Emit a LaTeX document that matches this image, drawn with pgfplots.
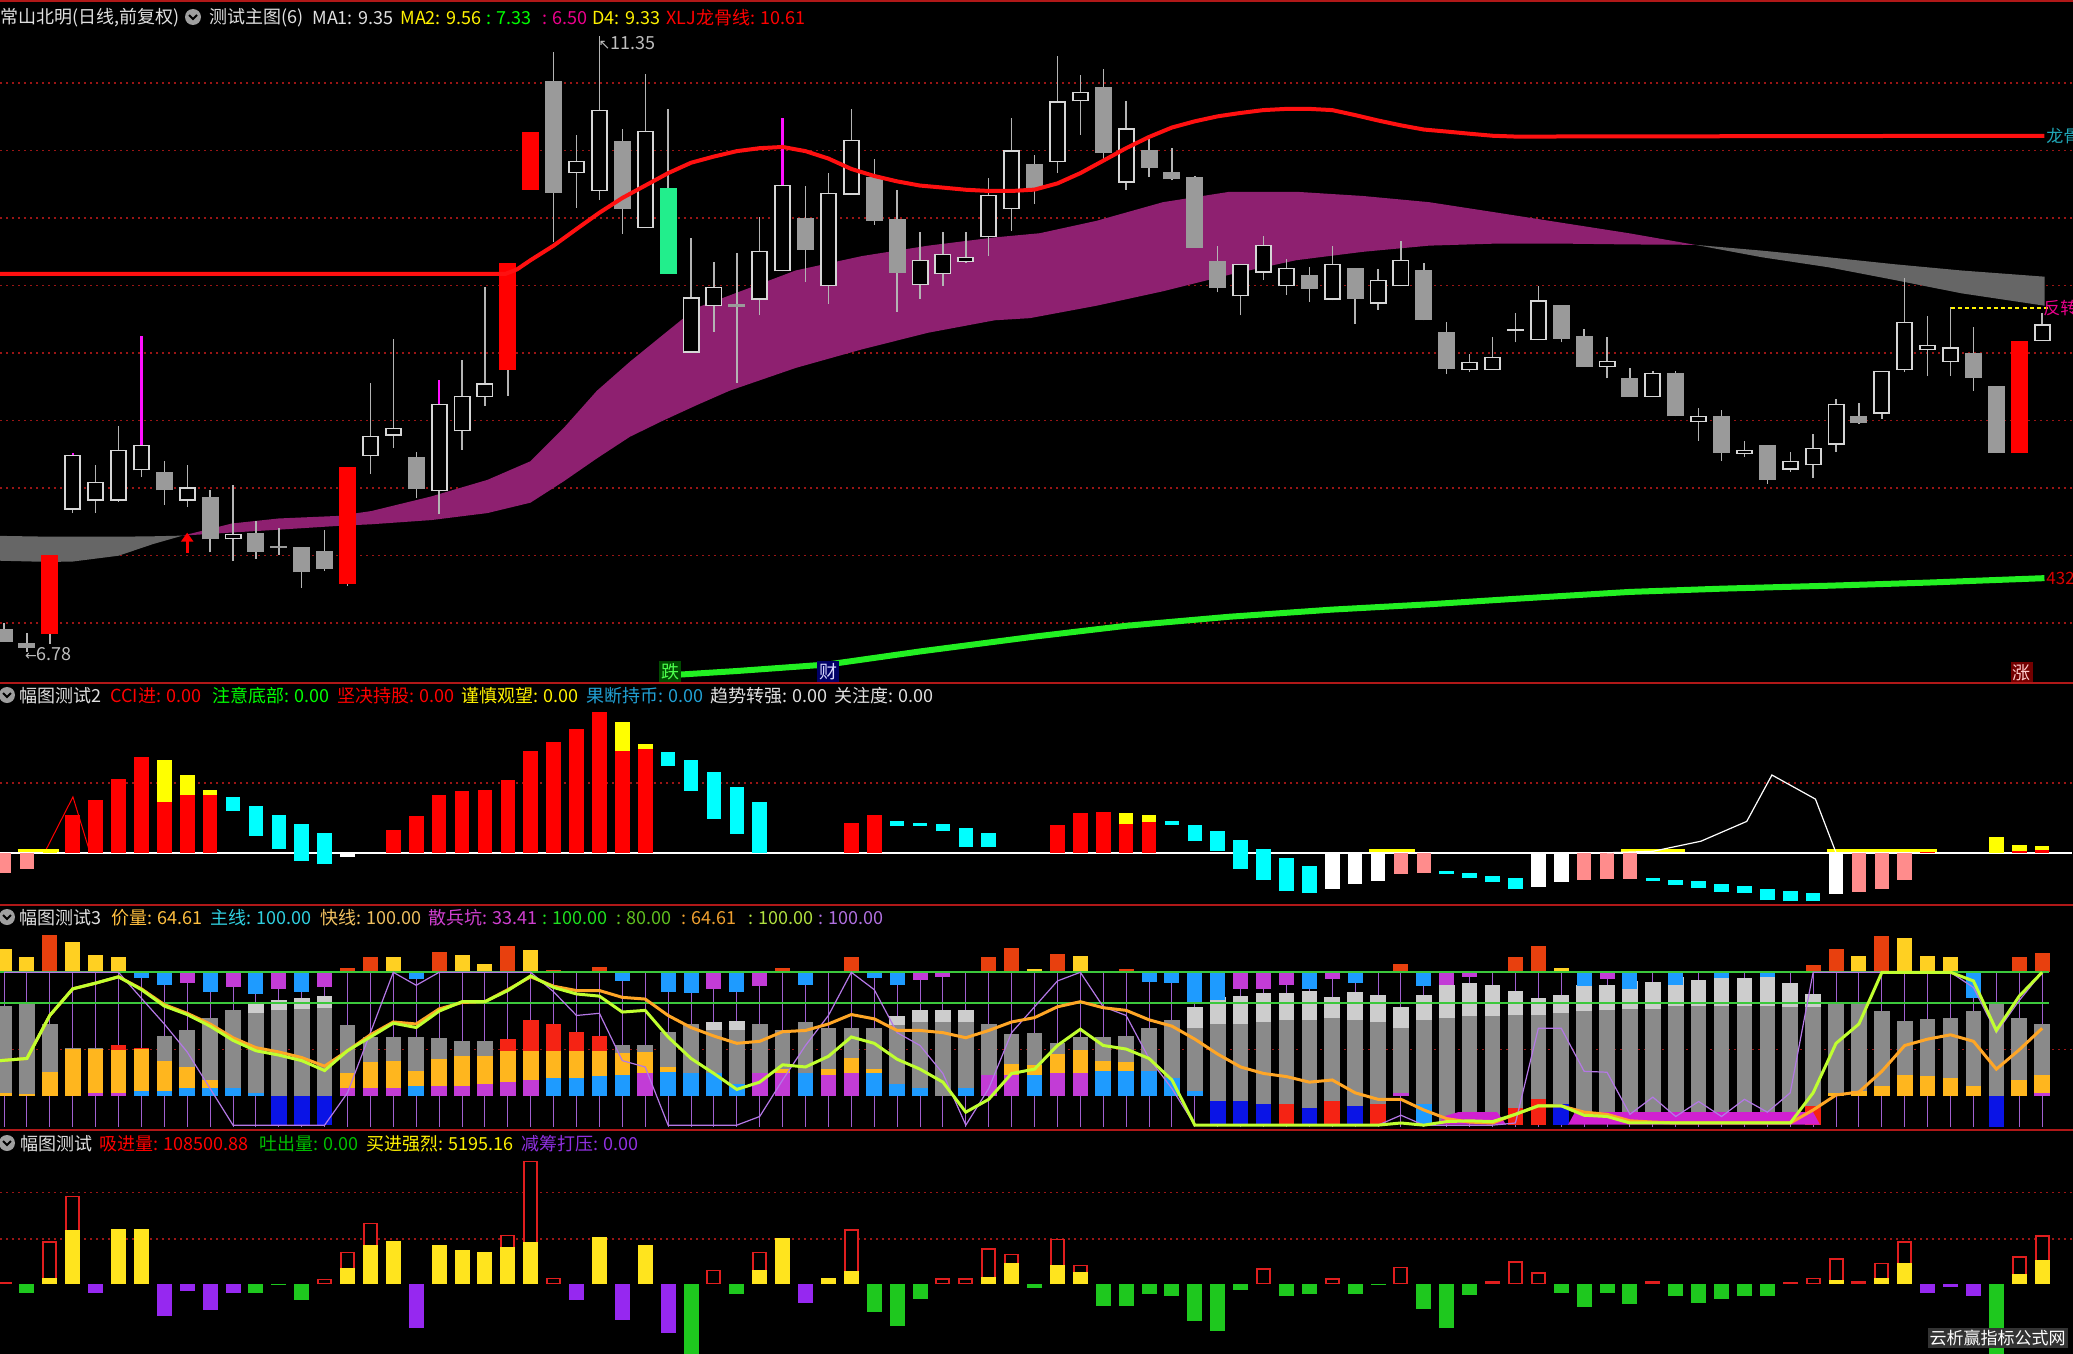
\documentclass[border=0pt]{standalone}
\usepackage{pgfplots}
\pgfplotsset{compat=1.18}
\usetikzlibrary{arrows.meta}
\usepackage{fontspec}
\setmainfont{Noto Sans CJK SC}
\newfontfamily\dejavu{DejaVu Sans}
\definecolor{candleH}{HTML}{D6D6D6}
\definecolor{candleG}{HTML}{9A9A9A}
\definecolor{wick}{HTML}{B4B4B4}
\definecolor{cred}{HTML}{FF0000}
\definecolor{cgreen}{HTML}{22EE8C}
\definecolor{cmag}{HTML}{FF10FF}
\definecolor{band}{HTML}{8E2070}
\definecolor{bandgray}{HTML}{666666}
\definecolor{lred}{HTML}{FF1010}
\definecolor{lgreen}{HTML}{22F022}
\definecolor{gridred}{HTML}{9A1515}
\definecolor{sepred}{HTML}{B01818}
\definecolor{ttxt}{HTML}{E0E0E0}
\definecolor{p2red}{HTML}{FF0000}
\definecolor{p2yel}{HTML}{FFFF00}
\definecolor{p2cyan}{HTML}{00FFFF}
\definecolor{p2pink}{HTML}{FF8C8C}
\definecolor{p3top}{HTML}{E8400E}
\definecolor{p3yel}{HTML}{FFD022}
\definecolor{p3blue}{HTML}{1E9BFF}
\definecolor{p3mag}{HTML}{C23CD6}
\definecolor{p3org}{HTML}{FFB61E}
\definecolor{p3gray}{HTML}{8A8A8A}
\definecolor{p3lgray}{HTML}{CDCDCD}
\definecolor{p3dblue}{HTML}{0A14E6}
\definecolor{p3red}{HTML}{F52314}
\definecolor{p3green}{HTML}{3CC83C}
\definecolor{p3oline}{HTML}{FFA626}
\definecolor{p3yline}{HTML}{C0FF30}
\definecolor{p3purp}{HTML}{B478E6}
\definecolor{p3vert}{HTML}{A060D0}
\definecolor{p3fill}{HTML}{D020D0}
\definecolor{p4yel}{HTML}{FFE41E}
\definecolor{p4red}{HTML}{E01E1E}
\definecolor{p4green}{HTML}{1EC81E}
\definecolor{p4purp}{HTML}{9628F0}
\pgfplotsset{
  panel/.style={scale only axis, width=1036.5pt, xmin=-0.17467, xmax=90.349,
    anchor=north west, axis line style={draw=none}, tick style={draw=none},
    xtick=\empty, ytick=\empty, unbounded coords=jump,
    every axis plot/.append style={line cap=butt, mark=none}},
  gridl/.style={draw=gridred, line width=0.7pt, dash pattern=on 0.7pt off 2.3pt},
}
\newcommand\hdr{\fontsize{9pt}{10pt}\selectfont}
\newcommand\lbl{\fontsize{8.5pt}{9pt}\selectfont}
\begin{document}
\begin{tikzpicture}[x=0.5pt,y=-0.5pt]
\fill[black] (0,0) rectangle (2073,1354);
\path[use as bounding box] (0,0) rectangle (2073,1354);
%================ MAIN ================
\begin{axis}[panel, at={(0pt,0pt)}, height=341.5pt, ymin=6.5563, ymax=11.6156]
\addplot[gridl] coordinates {(-0.17,7)(90.35,7)(90.35,nan)(-0.17,7.5)(90.35,7.5)(90.35,nan)(-0.17,8)(90.35,8)(90.35,nan)(-0.17,8.5)(90.35,8.5)(90.35,nan)(-0.17,9)(90.35,9)(90.35,nan)(-0.17,9.5)(90.35,9.5)(90.35,nan)(-0.17,10)(90.35,10)(90.35,nan)(-0.17,10.5)(90.35,10.5)(90.35,nan)(-0.17,11)(90.35,11)};
% bands
\addplot[fill=bandgray, draw=none] coordinates {(-0.17,7.646)(2,7.64)(3,7.64)(5,7.64)(6.5,7.643)(7.8,7.648)(6.5,7.585)(5,7.499)(3,7.456)(2,7.453)(-0.17,7.462)} --cycle;
\addplot[fill=band, draw=none] coordinates {(7.8,7.648)(9.96,7.738)(11.99,7.775)(14.59,7.794)(16.04,7.83)(18.65,7.938)(21.11,8.061)(22.99,8.199)(24.44,8.445)(25.89,8.721)(27.33,8.936)(28.78,9.136)(30.23,9.335)(31.68,9.427)(34.57,9.612)(37.47,9.719)(40.36,9.796)(43.26,9.857)(45.23,9.888)(47.71,9.98)(50.61,10.118)(53.52,10.195)(56.42,10.195)(59.33,10.164)(62.23,10.118)(65.14,10.042)(68.04,9.965)(70.95,9.888)(73.85,9.802)(70.95,9.805)(68.04,9.811)(65.14,9.811)(62.23,9.796)(59.33,9.75)(56.42,9.688)(53.52,9.581)(50.61,9.458)(47.71,9.351)(44.8,9.259)(43.26,9.243)(40.36,9.151)(37.47,9.028)(34.57,8.89)(31.68,8.721)(30.23,8.613)(28.78,8.5)(27.33,8.38)(25.89,8.22)(24.44,8.05)(22.99,7.892)(21.11,7.815)(18.65,7.763)(16.04,7.732)(14.59,7.72)(11.99,7.692)(9.96,7.671)} --cycle;
\addplot[fill=bandgray, draw=none] coordinates {(73.85,9.802)(76.76,9.759)(79.66,9.71)(82.57,9.658)(85.47,9.612)(89.11,9.566)(89.11,9.351)(85.47,9.443)(82.57,9.541)(79.66,9.636)(76.76,9.71)} --cycle;
% wicks
\addplot[wick, line width=0.7pt] coordinates {
(0,6.86)(0,7.00)(0,nan)(1,6.786)(1,6.924)(1,nan)(2,6.848)(2,7.508)(2,nan)(3,7.815)(3,8.26)(3,nan)
(4,7.815)(4,8.174)(4,nan)(5,7.9)(5,8.46)(5,nan)(6,8.082)(6,9.126)(6,nan)(7,7.876)(7,8.199)(7,nan)
(8,7.861)(8,8.168)(8,nan)(9,7.523)(9,7.984)(9,nan)(10,7.462)(10,8.021)(10,nan)(11,7.477)(11,7.754)(11,nan)
(12,7.508)(12,7.708)(12,nan)(13,7.262)(13,7.56)(13,nan)(14,7.385)(14,7.692)(14,nan)(15,7.278)(15,8.159)(15,nan)
(16,8.107)(16,8.782)(16,nan)(17,8.297)(17,9.105)(17,nan)(18,7.923)(18,8.267)(18,nan)(19,7.806)(19,8.804)(19,nan)
(20,8.285)(20,8.951)(20,nan)(21,8.607)(21,9.489)(21,nan)(22,8.684)(22,9.667)(22,nan)(24,9.821)(24,11.233)(24,nan)
(25,10.078)(25,10.619)(25,nan)(26,10.134)(26,11.35)(26,nan)(27,9.882)(27,10.662)(27,nan)(28,9.928)(28,11.071)(28,nan)
(29,9.587)(29,10.809)(29,nan)(30,9.004)(30,9.851)(30,nan)(31,9.157)(31,9.673)(31,nan)(32,8.782)(32,9.744)(32,nan)
(33,9.28)(33,10.005)(33,nan)(34,9.605)(34,10.742)(34,nan)(35,9.526)(35,10.241)(35,nan)(36,9.366)(36,10.333)(36,nan)
(37,10.174)(37,10.809)(37,nan)(38,9.95)(38,10.435)(38,nan)(39,9.305)(39,10.211)(39,nan)(40,9.403)(40,9.894)(40,nan)
(41,9.5)(41,9.894)(41,nan)(42,9.67)(42,9.9)(42,nan)(43,9.719)(43,10.294)(43,nan)(44,9.903)(44,10.742)(44,nan)
(45,10.103)(45,10.47)(45,nan)(46,10.333)(46,11.2)(46,nan)(47,10.619)(47,11.061)(47,nan)(48,10.44)(48,11.101)(48,nan)
(49,10.211)(49,10.871)(49,nan)(50,10.303)(50,10.588)(50,nan)(51,10.28)(51,10.52)(51,nan)(52,9.781)(52,10.31)(52,nan)
(53,9.45)(53,9.79)(53,nan)(54,9.28)(54,9.658)(54,nan)(55,9.54)(55,9.87)(55,nan)(56,9.43)(56,9.7)(56,nan)
(57,9.38)(57,9.64)(57,nan)(58,9.39)(58,9.79)(58,nan)(59,9.219)(59,9.627)(59,nan)(60,9.32)(60,9.62)(60,nan)
(61,9.495)(61,9.83)(61,nan)(62,9.243)(62,9.67)(62,nan)(63,8.844)(63,9.228)(63,nan)(64,8.86)(64,8.99)(64,nan)
(65,8.875)(65,9.12)(65,nan)(66,9.08)(66,9.3)(66,nan)(67,9.096)(67,9.5)(67,nan)(68,9.08)(68,9.36)(68,nan)
(69,8.899)(69,9.18)(69,nan)(70,8.813)(70,9.12)(70,nan)(71,8.675)(71,8.89)(71,nan)(72,8.675)(72,8.87)(72,nan)
(73,8.531)(73,8.87)(73,nan)(74,8.352)(74,8.592)(74,nan)(75,8.2)(75,8.58)(75,nan)(76,8.23)(76,8.35)(76,nan)
(77,8.03)(77,8.32)(77,nan)(78,8.12)(78,8.27)(78,nan)(79,8.075)(79,8.4)(79,nan)(80,8.27)(80,8.66)(80,nan)
(81,8.475)(81,8.63)(81,nan)(82,8.515)(82,8.868)(82,nan)(83,8.86)(83,9.556)(83,nan)(84,8.829)(84,9.274)(84,nan)
(85,8.829)(85,9.341)(85,nan)(86,8.72)(86,9.19)(86,nan)(87,8.26)(87,8.76)(87,nan)(89,9.09)(89,9.3)};
\addplot[cmag, line width=1.2pt] coordinates {(3,8.245)(3,8.262)(3,nan)(6,8.322)(6,9.126)(6,nan)(19,8.623)(19,8.804)(19,nan)(34,10.248)(34,10.742)};
% gray bodies
\addplot[candleG, line width=8.5pt] coordinates {
(0,6.863)(0,6.955)(0,nan)(1,6.817)(1,6.854)(1,nan)(7,7.984)(7,8.122)(7,nan)(9,7.621)(9,7.932)(9,nan)
(11,7.529)(11,7.667)(11,nan)(12,7.555)(12,7.572)(12,nan)(13,7.376)(13,7.56)(13,nan)(14,7.4)(14,7.535)(14,nan)
(18,7.99)(18,8.23)(18,nan)(24,10.186)(24,11.018)(24,nan)(27,10.066)(27,10.57)(27,nan)(32,9.341)(32,9.366)(32,nan)
(35,9.765)(35,10.002)(35,nan)(38,9.98)(38,10.303)(38,nan)(39,9.596)(39,9.99)(39,nan)(45,10.226)(45,10.404)(45,nan)
(48,10.481)(48,10.969)(48,nan)(50,10.373)(50,10.502)(50,nan)(51,10.287)(51,10.343)(51,nan)(52,9.781)(52,10.303)(52,nan)
(53,9.483)(53,9.679)(53,nan)(57,9.473)(57,9.581)(57,nan)(59,9.403)(59,9.627)(59,nan)(62,9.243)(62,9.612)(62,nan)
(63,8.881)(63,9.157)(63,nan)(68,9.105)(68,9.36)(68,nan)(69,8.899)(69,9.126)(69,nan)(71,8.675)(71,8.813)(71,nan)
(73,8.531)(73,8.856)(73,nan)(75,8.26)(75,8.537)(75,nan)(77,8.061)(77,8.316)(77,nan)(81,8.482)(81,8.537)(81,nan)
(86,8.819)(86,9.004)(86,nan)(87,8.26)(87,8.758)};
% hollow bodies (outline)
\addplot[candleH, line width=8.5pt] coordinates {
(3,7.84)(3,8.245)(3,nan)(4,7.907)(4,8.045)(4,nan)(5,7.907)(5,8.285)(5,nan)(6,8.131)(6,8.322)(6,nan)
(8,7.907)(8,8.005)(8,nan)(10,7.621)(10,7.661)(10,nan)(16,8.236)(16,8.389)(16,nan)(17,8.389)(17,8.445)(17,nan)
(19,7.978)(19,8.623)(19,nan)(20,8.42)(20,8.681)(20,nan)(21,8.675)(21,8.776)(21,nan)(25,10.333)(25,10.422)(25,nan)
(26,10.201)(26,10.8)(26,nan)(28,9.928)(28,10.647)(28,nan)(30,9.004)(30,9.412)(30,nan)(31,9.351)(31,9.489)(31,nan)
(33,9.397)(33,9.756)(33,nan)(34,9.605)(34,10.248)(34,nan)(36,9.498)(36,10.189)(36,nan)(37,10.174)(37,10.579)(37,nan)
(40,9.504)(40,9.688)(40,nan)(41,9.587)(41,9.734)(41,nan)(42,9.675)(42,9.715)(42,nan)(43,9.857)(43,10.171)(43,nan)
(44,10.066)(44,10.502)(44,nan)(46,10.416)(46,10.865)(46,nan)(47,10.865)(47,10.932)(47,nan)(49,10.263)(49,10.665)(49,nan)
(54,9.421)(54,9.658)(54,nan)(55,9.596)(55,9.802)(55,nan)(56,9.495)(56,9.633)(56,nan)(58,9.397)(58,9.658)(58,nan)
(60,9.366)(60,9.544)(60,nan)(61,9.495)(61,9.688)(61,nan)(64,8.875)(64,8.936)(64,nan)(65,8.875)(65,8.973)(65,nan)
(66,9.163)(66,9.181)(66,nan)(67,9.096)(67,9.391)(67,nan)(70,8.899)(70,8.945)(70,nan)(72,8.675)(72,8.856)(72,nan)
(74,8.491)(74,8.537)(74,nan)(76,8.254)(76,8.285)(76,nan)(78,8.137)(78,8.199)(78,nan)(79,8.168)(79,8.297)(79,nan)
(80,8.322)(80,8.623)(80,nan)(82,8.552)(82,8.868)(82,nan)(83,8.875)(83,9.234)(83,nan)(84,9.022)(84,9.059)(84,nan)
(85,8.936)(85,9.043)(85,nan)(89,9.09)(89,9.212)};
% hollow bodies (inside)
\addplot[black, line width=6.6pt] coordinates {
(3,7.849)(3,8.236)(3,nan)(4,7.916)(4,8.036)(4,nan)(5,7.916)(5,8.276)(5,nan)(6,8.14)(6,8.313)(6,nan)
(8,7.916)(8,7.996)(8,nan)(10,7.63)(10,7.652)(10,nan)(16,8.245)(16,8.38)(16,nan)(17,8.398)(17,8.436)(17,nan)
(19,7.987)(19,8.614)(19,nan)(20,8.429)(20,8.672)(20,nan)(21,8.684)(21,8.767)(21,nan)(25,10.342)(25,10.413)(25,nan)
(26,10.21)(26,10.791)(26,nan)(28,9.937)(28,10.638)(28,nan)(30,9.013)(30,9.403)(30,nan)(31,9.36)(31,9.48)(31,nan)
(33,9.406)(33,9.747)(33,nan)(34,9.614)(34,10.239)(34,nan)(36,9.507)(36,10.18)(36,nan)(37,10.183)(37,10.57)(37,nan)
(40,9.513)(40,9.679)(40,nan)(41,9.596)(41,9.725)(41,nan)(42,9.684)(42,9.706)(42,nan)(43,9.866)(43,10.162)(43,nan)
(44,10.075)(44,10.493)(44,nan)(46,10.425)(46,10.856)(46,nan)(47,10.874)(47,10.923)(47,nan)(49,10.272)(49,10.656)(49,nan)
(54,9.43)(54,9.649)(54,nan)(55,9.605)(55,9.793)(55,nan)(56,9.504)(56,9.624)(56,nan)(58,9.406)(58,9.649)(58,nan)
(60,9.375)(60,9.535)(60,nan)(61,9.504)(61,9.679)(61,nan)(64,8.884)(64,8.927)(64,nan)(65,8.884)(65,8.964)(65,nan)
(67,9.105)(67,9.382)(67,nan)(70,8.908)(70,8.936)(70,nan)(72,8.684)(72,8.847)(72,nan)(74,8.5)(74,8.528)(74,nan)
(76,8.263)(76,8.276)(76,nan)(78,8.146)(78,8.19)(78,nan)(79,8.177)(79,8.288)(79,nan)(80,8.331)(80,8.614)(80,nan)
(82,8.561)(82,8.859)(82,nan)(83,8.884)(83,9.225)(83,nan)(84,9.031)(84,9.05)(84,nan)(85,8.945)(85,9.034)(85,nan)
(89,9.099)(89,9.203)};
% red & green bodies
\addplot[cred, line width=8.5pt] coordinates {(2,6.918)(2,7.508)(2,nan)(15,7.293)(15,8.159)(15,nan)(22,8.875)(22,9.667)(22,nan)(23,10.211)(23,10.641)(23,nan)(88,8.26)(88,9.09)};
\addplot[cgreen, line width=8.5pt] coordinates {(29,9.587)(29,10.226)};
% red line
\addplot[lred, line width=2pt] coordinates {(-0.17,9.587)(21.9,9.587)(22.4,9.62)(23,9.689)(24,9.796)(25,9.919)(26,10.04)(27,10.149)(28,10.241)(29,10.333)(30,10.41)(31,10.456)(32,10.496)(33,10.518)(34,10.527)(35,10.496)(36,10.441)(37,10.364)(38,10.312)(39,10.272)(40,10.241)(41,10.226)(42,10.21)(43,10.201)(44,10.201)(45,10.211)(46,10.257)(47,10.333)(48,10.425)(49,10.518)(50,10.601)(51,10.671)(52,10.717)(53,10.754)(54,10.779)(55,10.8)(56,10.809)(57,10.809)(58,10.8)(59,10.763)(60,10.723)(61,10.687)(62,10.656)(63,10.641)(64,10.625)(65,10.61)(66,10.604)(89.1,10.61)};
% green line
\addplot[lgreen, line width=3pt] coordinates {(29.36,6.617)(32,6.645)(36,6.694)(40,6.79)(45,6.9)(49,6.98)(53.5,7.047)(58,7.1)(62.2,7.139)(66,7.18)(71,7.231)(75,7.255)(79.7,7.277)(84,7.3)(89.1,7.333)};
% dotted yellow
\addplot[yellow, line width=0.9pt, dash pattern=on 2pt off 1.6pt] coordinates {(85,9.335)(89.4,9.335)};
% red arrow
\draw[cred, line width=1.4pt, -{Triangle[width=6pt,length=4.5pt]}] (axis cs:8,7.52) -- (axis cs:8,7.67);
% labels
\node[anchor=west, inner sep=0, text=ttxt!85!black, font=\hdr] at (axis cs:25.95,11.30) {{\dejavu\fontsize{7pt}{7pt}\selectfont ↖}11.35};
\node[anchor=west, inner sep=0, text=ttxt!85!black, font=\hdr] at (axis cs:0.9,6.77) {{\dejavu\fontsize{7pt}{7pt}\selectfont ←}6.78};
\node[fill=green!30!black, text=green!70!white, inner sep=1pt, font=\hdr] at (axis cs:29.1,6.64) {跌};
\node[fill=blue!40!black, text=blue!15!white, inner sep=1pt, font=\hdr] at (axis cs:36.0,6.64) {财};
\node[fill=red!45!black, text=red!20!white, inner sep=1pt, font=\hdr] at (axis cs:88.1,6.635) {涨};
\end{axis}
%================ PANEL 2 ================
\begin{axis}[panel, at={(0pt,-341.5pt)}, height=111pt, ymin=-52.2, ymax=169.8]
\addplot[gridl] coordinates {(-0.17,69.8)(90.35,69.8)};
\addplot[white, line width=1pt] coordinates {(-0.17,0)(90.3,0)};
\addplot[p2red, line width=0.5pt] coordinates {(1.79,1)(3.01,55.9)(3.73,2)};
\addplot[p2red, line width=7.3pt] coordinates {(3,0)(3,38.3)(3,nan)(4,0)(4,53.3)(4,nan)(5,0)(5,73.9)(5,nan)(6,0)(6,95.4)(6,nan)(7,0)(7,51.2)(7,nan)(8,0)(8,57.6)(8,nan)(9,0)(9,57.6)(9,nan)(17,0)(17,23.2)(17,nan)(18,0)(18,36.5)(18,nan)(19,0)(19,57.6)(19,nan)(20,0)(20,61.9)(20,nan)(21,0)(21,63.2)(21,nan)(22,0)(22,72.7)(22,nan)(23,0)(23,101.9)(23,nan)(24,0)(24,110.5)(24,nan)(25,0)(25,123.4)(25,nan)(26,0)(26,140.6)(26,nan)(27,0)(27,101.9)(27,nan)(28,0)(28,104)(28,nan)(37,0)(37,30.1)(37,nan)(38,0)(38,38.3)(38,nan)(46,0)(46,27.5)(46,nan)(47,0)(47,39.6)(47,nan)(48,0)(48,40.8)(48,nan)(49,0)(49,28.8)(49,nan)(50,0)(50,31)(50,nan)(84,0)(84,4.3)(84,nan)(88,0)(88,2)(88,nan)(89,0)(89,2.5)};
\addplot[p2yel, line width=7.3pt] coordinates {(2,0)(2,3)(2,nan)(7,51.2)(7,93.3)(7,nan)(8,57.6)(8,78.2)(8,nan)(9,57.6)(9,63.2)(9,nan)(27,101.9)(27,131.1)(27,nan)(28,104)(28,109.2)(28,nan)(49,28.8)(49,39.6)(49,nan)(50,31)(50,38.3)(50,nan)(87,0)(87,15.9)(87,nan)(88,2)(88,8.2)(88,nan)(89,2.5)(89,6.4)};
\addplot[p2yel, line width=1.5pt] coordinates {(0.6,2)(2.4,2)(2.4,nan)(59.6,2)(61.6,2)(61.6,nan)(70.6,2)(73.4,2)(73.4,nan)(79.6,2)(84.4,2)};
\addplot[p2cyan, line width=7.3pt] coordinates {(10,41.7)(10,55.9)(10,nan)(11,17.2)(11,46.9)(11,nan)(12,4.3)(12,38.3)(12,nan)(13,-7.7)(13,28.8)(13,nan)(14,-11.2)(14,20.2)(14,nan)(29,86.8)(29,101)(29,nan)(30,62.3)(30,92.4)(30,nan)(31,34)(31,80.4)(31,nan)(32,18.9)(32,66.2)(32,nan)(33,0)(33,51.2)(33,nan)(39,26.7)(39,32.2)(39,nan)(40,26.7)(40,30.1)(40,nan)(41,21.5)(41,28.8)(41,nan)(42,6)(42,24.5)(42,nan)(43,6)(43,20.2)(43,nan)(51,28)(51,32.2)(51,nan)(52,11.6)(52,27.5)(52,nan)(53,1.7)(53,21.5)(53,nan)(54,-16.3)(54,12.5)(54,nan)(55,-27.1)(55,4.3)(55,nan)(56,-37.8)(56,-5.6)(56,nan)(57,-40)(57,-12.9)(57,nan)(63,-21.5)(63,-18.5)(63,nan)(64,-24.9)(64,-20.6)(64,nan)(65,-29.2)(65,-22.8)(65,nan)(66,-35.7)(66,-24.9)(66,nan)(72,-28)(72,-24.9)(72,nan)(73,-32.2)(73,-27.1)(73,nan)(74,-35.3)(74,-28.4)(74,nan)(75,-39.1)(75,-31.4)(75,nan)(76,-40)(76,-32.7)(76,nan)(77,-47.3)(77,-35.7)(77,nan)(78,-48.6)(78,-37.8)(78,nan)(79,-48.6)(79,-40)};
\addplot[white, line width=7.3pt] coordinates {(15,0)(15,-4.3)(15,nan)(58,0)(58,-35.7)(58,nan)(59,0)(59,-31.4)(59,nan)(60,0)(60,-28.4)(60,nan)(67,0)(67,-34.4)(67,nan)(68,0)(68,-29.2)(68,nan)(80,0)(80,-40.8)};
\addplot[p2pink, line width=7.3pt] coordinates {(0,0)(0,-19.8)(0,nan)(1,0)(1,-16.3)(1,nan)(61,0)(61,-21.5)(61,nan)(62,0)(62,-19.8)(62,nan)(69,0)(69,-27.1)(69,nan)(70,0)(70,-25.8)(70,nan)(71,0)(71,-25.8)(71,nan)(81,0)(81,-39.1)(81,nan)(82,0)(82,-35.7)(82,nan)(83,0)(83,-27.1)};
\addplot[white, line width=0.6pt] coordinates {(70,0)(72,1.5)(74.1,11.6)(76.1,31.4)(77.2,77.8)(79.1,53.7)(80,0)};
\end{axis}
%================ PANEL 3 ================
\begin{axis}[panel, at={(0pt,-452.5pt)}, height=112.5pt, ymin=-1.94, ymax=143.5]
\addplot[gridl] coordinates {(-0.17,50)(90.35,50)};
\addplot[p3vert, line width=0.5pt] coordinates {(0,0)(0,100)(0,nan)(1,0)(1,100)(1,nan)(2,0)(2,100)(2,nan)(3,0)(3,100)(3,nan)(4,0)(4,100)(4,nan)(5,0)(5,100)(5,nan)(6,0)(6,100)(6,nan)(7,0)(7,100)(7,nan)(8,0)(8,100)(8,nan)(9,0)(9,100)(9,nan)(10,0)(10,100)(10,nan)(11,0)(11,100)(11,nan)(12,0)(12,100)(12,nan)(13,0)(13,100)(13,nan)(14,0)(14,100)(14,nan)(15,0)(15,100)(15,nan)(16,0)(16,100)(16,nan)(17,0)(17,100)(17,nan)(18,0)(18,100)(18,nan)(19,0)(19,100)(19,nan)(20,0)(20,100)(20,nan)(21,0)(21,100)(21,nan)(22,0)(22,100)(22,nan)(23,0)(23,100)(23,nan)(24,0)(24,100)(24,nan)(25,0)(25,100)(25,nan)(26,0)(26,100)(26,nan)(27,0)(27,100)(27,nan)(28,0)(28,100)(28,nan)(29,0)(29,100)(29,nan)(30,0)(30,100)(30,nan)(31,0)(31,100)(31,nan)(32,0)(32,100)(32,nan)(33,0)(33,100)(33,nan)(34,0)(34,100)(34,nan)(35,0)(35,100)(35,nan)(36,0)(36,100)(36,nan)(37,0)(37,100)(37,nan)(38,0)(38,100)(38,nan)(39,0)(39,100)(39,nan)(40,0)(40,100)(40,nan)(41,0)(41,100)(41,nan)(42,0)(42,100)(42,nan)(43,0)(43,100)(43,nan)(44,0)(44,100)(44,nan)(45,0)(45,100)(45,nan)(46,0)(46,100)(46,nan)(47,0)(47,100)(47,nan)(48,0)(48,100)(48,nan)(49,0)(49,100)(49,nan)(50,0)(50,100)(50,nan)(51,0)(51,100)(51,nan)(52,0)(52,100)(52,nan)(53,0)(53,100)(53,nan)(54,0)(54,100)(54,nan)(55,0)(55,100)(55,nan)(56,0)(56,100)(56,nan)(57,0)(57,100)(57,nan)(58,0)(58,100)(58,nan)(59,0)(59,100)(59,nan)(60,0)(60,100)(60,nan)(61,0)(61,100)(61,nan)(62,0)(62,100)(62,nan)(63,0)(63,100)(63,nan)(64,0)(64,100)(64,nan)(65,0)(65,100)(65,nan)(66,0)(66,100)(66,nan)(67,0)(67,100)(67,nan)(68,0)(68,100)(68,nan)(69,0)(69,100)(69,nan)(70,0)(70,100)(70,nan)(71,0)(71,100)(71,nan)(72,0)(72,100)(72,nan)(73,0)(73,100)(73,nan)(74,0)(74,100)(74,nan)(75,0)(75,100)(75,nan)(76,0)(76,100)(76,nan)(77,0)(77,100)(77,nan)(78,0)(78,100)(78,nan)(79,0)(79,100)(79,nan)(80,0)(80,100)(80,nan)(81,0)(81,100)(81,nan)(82,0)(82,100)(82,nan)(83,0)(83,100)(83,nan)(84,0)(84,100)(84,nan)(85,0)(85,100)(85,nan)(86,0)(86,100)(86,nan)(87,0)(87,100)(87,nan)(88,0)(88,100)(88,nan)(89,0)(89,100)};
% gray stack
\addplot[p3gray, line width=7.8pt] coordinates {(0,20)(0,78.2)(0,nan)(1,20)(1,79.9)(1,nan)(2,20)(2,66.6)(2,nan)(3,20)(3,51)(3,nan)(4,20)(4,51)(4,nan)(7,20)(7,58.8)(7,nan)(8,20)(8,62.4)(8,nan)(9,20)(9,70.7)(9,nan)(10,20)(10,75.4)(10,nan)(11,20)(11,73.5)(11,nan)(12,20)(12,75.4)(12,nan)(13,20)(13,76)(13,nan)(14,20)(14,77)(14,nan)(15,20)(15,66)(15,nan)(16,20)(16,58.2)(16,nan)(17,20)(17,58.2)(17,nan)(18,20)(18,58.2)(18,nan)(19,20)(19,57.7)(19,nan)(20,20)(20,55.4)(20,nan)(21,20)(21,55.4)(21,nan)(27,20)(27,53.2)(27,nan)(28,20)(28,52.7)(28,nan)(29,20)(29,61.6)(29,nan)(30,20)(30,66.6)(30,nan)(31,20)(31,63)(31,nan)(32,20)(32,63)(32,nan)(33,20)(33,66.6)(33,nan)(34,20)(34,62.4)(34,nan)(35,20)(35,67.9)(35,nan)(36,20)(36,63.8)(36,nan)(37,20)(37,63.8)(37,nan)(38,20)(38,63.8)(38,nan)(39,20)(39,66)(39,nan)(40,20)(40,68)(40,nan)(41,20)(41,68)(41,nan)(42,20)(42,68)(42,nan)(43,20)(43,66.6)(43,nan)(44,20)(44,60.4)(44,nan)(45,20)(45,61)(45,nan)(46,20)(46,54.1)(46,nan)(47,20)(47,58.2)(47,nan)(48,20)(48,58.2)(48,nan)(49,20)(49,58.8)(49,nan)(50,20)(50,64.3)(50,nan)(51,20)(51,69.3)(51,nan)(52,20)(52,63.8)(52,nan)(53,16.5)(53,66.6)(53,nan)(54,16.5)(54,66.6)(54,nan)(55,15.1)(55,67.9)(55,nan)(56,15.1)(56,69.3)(56,nan)(57,12.4)(57,69.3)(57,nan)(58,17.1)(58,70.7)(58,nan)(59,13.7)(59,69.3)(59,nan)(60,15.1)(60,67.9)(60,nan)(61,22.1)(61,63.8)(61,nan)(62,15.1)(62,69.3)(62,nan)(63,2.1)(63,70.7)(63,nan)(64,2.1)(64,72)(64,nan)(65,2.1)(65,72)(65,nan)(66,12.4)(66,72.7)(66,nan)(67,17.9)(67,72.7)(67,nan)(68,15.1)(68,73.5)(68,nan)(69,2.1)(69,74.9)(69,nan)(70,2.1)(70,75.4)(70,nan)(71,2.1)(71,76.3)(71,nan)(72,2.1)(72,76.3)(72,nan)(73,2.1)(73,78.2)(73,nan)(74,2.1)(74,78.2)(74,nan)(75,2.1)(75,78.2)(75,nan)(76,2.1)(76,78.2)(76,nan)(77,2.1)(77,78.2)(77,nan)(78,2.1)(78,77.7)(78,nan)(79,13.7)(79,77.7)(79,nan)(80,20)(80,80.5)(80,nan)(81,20)(81,79.9)(81,nan)(82,20)(82,74.9)(82,nan)(83,20)(83,68.8)(83,nan)(84,20)(84,69.9)(84,nan)(85,20)(85,70.7)(85,nan)(86,20)(86,74.9)(86,nan)(87,20)(87,79.9)(87,nan)(88,20)(88,70.7)(88,nan)(89,20)(89,66.6)};
\addplot[p3lgray, line width=7.8pt] coordinates {(11,73.5)(11,81)(11,nan)(12,75.4)(12,81.8)(12,nan)(13,76)(13,83.2)(13,nan)(14,77)(14,84.6)(14,nan)(31,63)(31,67.9)(31,nan)(32,63)(32,68.8)(32,nan)(39,66)(39,71.6)(39,nan)(40,68)(40,75.4)(40,nan)(41,68)(41,75.4)(41,nan)(42,68)(42,75.4)(42,nan)(52,63.8)(52,77.7)(52,nan)(53,66.6)(53,83.8)(53,nan)(54,66.6)(54,84.6)(54,nan)(55,67.9)(55,86.6)(55,nan)(56,69.3)(56,86.6)(56,nan)(57,69.3)(57,88.2)(57,nan)(58,70.7)(58,83.8)(58,nan)(59,69.3)(59,87.4)(59,nan)(60,67.9)(60,85.4)(60,nan)(61,63.8)(61,77.7)(61,nan)(62,69.3)(62,85.4)(62,nan)(63,70.7)(63,91.6)(63,nan)(64,72)(64,93)(64,nan)(65,72)(65,92.1)(65,nan)(66,72.7)(66,88.2)(66,nan)(67,72.7)(67,83.2)(67,nan)(68,73.5)(68,85.4)(68,nan)(69,74.9)(69,91.6)(69,nan)(70,75.4)(70,92.1)(70,nan)(71,76.3)(71,94.4)(71,nan)(72,76.3)(72,93.8)(72,nan)(73,78.2)(73,97.1)(73,nan)(74,78.2)(74,94.9)(74,nan)(75,78.2)(75,97.1)(75,nan)(76,78.2)(76,96.6)(76,nan)(77,78.2)(77,97.1)(77,nan)(78,77.7)(78,93)(78,nan)(79,77.7)(79,86)};
\addplot[p3org, line width=7.8pt] coordinates {(0,20)(0,22)(0,nan)(1,20)(1,21.5)(1,nan)(2,20)(2,35.4)(2,nan)(3,20)(3,50.4)(3,nan)(4,22.1)(4,50.4)(4,nan)(5,22.1)(5,49.9)(5,nan)(6,23.5)(6,50.4)(6,nan)(7,23.5)(7,42.9)(7,nan)(8,24.9)(8,38.8)(8,nan)(9,25.4)(9,30.4)(9,nan)(15,24.9)(15,34.6)(15,nan)(16,25.4)(16,42.1)(16,nan)(17,25.4)(17,42.9)(17,nan)(18,26.2)(18,36)(18,nan)(19,26.2)(19,43.8)(19,nan)(20,26.2)(20,45.7)(20,nan)(21,27.6)(21,45.7)(21,nan)(22,29)(22,49.3)(22,nan)(23,30.4)(23,49.3)(23,nan)(24,31.8)(24,49.3)(24,nan)(25,31.8)(25,49.3)(25,nan)(26,33.2)(26,49.3)(26,nan)(27,33.8)(27,47.7)(27,nan)(28,34.6)(28,48.5)(28,nan)(29,35.4)(29,38.8)(29,nan)(34,34.6)(34,37.4)(34,nan)(36,33.8)(36,37.6)(36,nan)(37,34.6)(37,44.9)(37,nan)(38,34.6)(38,37.4)(38,nan)(44,33.8)(44,41)(44,nan)(45,33.8)(45,40.2)(45,nan)(46,34.6)(46,47.1)(46,nan)(47,34.6)(47,49.9)(47,nan)(48,36)(48,42.9)(48,nan)(49,36)(49,42.1)(49,nan)(80,20)(80,22.1)(80,nan)(81,20)(81,23.5)(81,nan)(82,20)(82,26.2)(82,nan)(83,20)(83,33.8)(83,nan)(84,20)(84,33)(84,nan)(85,20)(85,31.8)(85,nan)(86,20)(86,26.2)(86,nan)(88,20)(88,30.4)(88,nan)(89,22)(89,33.8)};
\addplot[p3red, line width=7.8pt] coordinates {(5,49.9)(5,53.2)(5,nan)(6,50.4)(6,51.3)(6,nan)(22,49.3)(22,56.8)(22,nan)(23,49.3)(23,69.3)(23,nan)(24,49.3)(24,66.6)(24,nan)(25,49.3)(25,61.6)(25,nan)(26,49.3)(26,58.8)(26,nan)(56,2.1)(56,15.1)(56,nan)(58,2.1)(58,17.1)(58,nan)(60,2.1)(60,15.1)(60,nan)(66,1.2)(66,12.4)(66,nan)(67,1.2)(67,17.9)(67,nan)(79,1.2)(79,13.7)};
\addplot[p3blue, line width=7.8pt] coordinates {(6,20)(6,23.5)(6,nan)(7,20)(7,23.5)(7,nan)(8,20)(8,24.9)(8,nan)(9,20)(9,25.4)(9,nan)(10,20)(10,25.4)(10,nan)(11,20)(11,22)(11,nan)(18,20)(18,26.2)(18,nan)(24,20)(24,31.8)(24,nan)(25,20)(25,31.8)(25,nan)(26,20)(26,33.2)(26,nan)(27,20)(27,33.8)(27,nan)(29,20)(29,35.4)(29,nan)(30,20)(30,34.6)(30,nan)(31,20)(31,34.6)(31,nan)(32,20)(32,27.6)(32,nan)(35,20)(35,34.6)(35,nan)(38,20)(38,34.6)(38,nan)(39,20)(39,28)(39,nan)(40,20)(40,25.4)(40,nan)(42,20)(42,25.4)(42,nan)(45,20)(45,33.8)(45,nan)(48,20)(48,36)(48,nan)(49,20)(49,36)(49,nan)(50,20)(50,36)(50,nan)(51,20)(51,31.8)(51,nan)(52,20)(52,23.5)(52,nan)(62,2.1)(62,15.1)};
\addplot[p3mag, line width=7.8pt] coordinates {(4,20)(4,22.1)(4,nan)(5,20)(5,22.1)(5,nan)(15,20)(15,24.9)(15,nan)(16,20)(16,25.4)(16,nan)(17,20)(17,25.4)(17,nan)(19,20)(19,26.2)(19,nan)(20,20)(20,26.2)(20,nan)(21,20)(21,27.6)(21,nan)(22,20)(22,29)(22,nan)(23,20)(23,30.4)(23,nan)(28,20)(28,34.6)(28,nan)(33,20)(33,34.6)(33,nan)(34,20)(34,34.6)(34,nan)(36,20)(36,33.8)(36,nan)(37,20)(37,34.6)(37,nan)(43,20)(43,33.8)(43,nan)(44,20)(44,33.8)(44,nan)(46,20)(46,34.6)(46,nan)(47,20)(47,34.6)(47,nan)(61,19.9)(61,22.1)(61,nan)(89,20)(89,22)};
\addplot[p3dblue, line width=7.8pt] coordinates {(12,1.3)(12,20)(12,nan)(13,1.3)(13,20)(13,nan)(14,1.3)(14,20)(14,nan)(53,2.1)(53,16.5)(53,nan)(54,2.1)(54,16.5)(54,nan)(55,2.1)(55,15.1)(55,nan)(57,2.1)(57,12.4)(57,nan)(59,2.1)(59,13.7)(59,nan)(68,1.2)(68,15.1)(68,nan)(87,0)(87,20)};
% hanging bars
\addplot[p3blue, line width=7.5pt] coordinates {(6,100)(6,96.6)(6,nan)(7,100)(7,91.6)(7,nan)(9,100)(9,87.4)(9,nan)(11,100)(11,86)(11,nan)(13,100)(13,87.4)(13,nan)(18,100)(18,95.7)(18,nan)(27,100)(27,94.3)(27,nan)(29,100)(29,87.4)(29,nan)(30,100)(30,86.6)(30,nan)(32,100)(32,87.4)(32,nan)(35,100)(35,92.1)(35,nan)(38,100)(38,96)(38,nan)(39,100)(39,92.1)(39,nan)(50,100)(50,93.9)(50,nan)(51,100)(51,93)(51,nan)(52,100)(52,81)(52,nan)(53,100)(53,81.8)(53,nan)(57,100)(57,89.3)(57,nan)(59,100)(59,92.9)(59,nan)(62,100)(62,91)(62,nan)(69,100)(69,91)(69,nan)(71,100)(71,89.3)(71,nan)(73,100)(73,91.6)(73,nan)(75,100)(75,96.6)(75,nan)(77,100)(77,97)(77,nan)(86,100)(86,83.2)};
\addplot[p3mag, line width=7.5pt] coordinates {(8,100)(8,92.9)(8,nan)(10,100)(10,90.2)(10,nan)(12,100)(12,89.3)(12,nan)(14,100)(14,90.2)(14,nan)(31,100)(31,89.3)(31,nan)(33,100)(33,91)(33,nan)(40,100)(40,94.9)(40,nan)(41,100)(41,97.1)(41,nan)(54,100)(54,89.3)(54,nan)(55,100)(55,89.3)(55,nan)(56,100)(56,92.1)(56,nan)(58,100)(58,95.7)(58,nan)(63,100)(63,92.1)(63,nan)(64,100)(64,97)(64,nan)(70,100)(70,95.7)};
% top bars
\addplot[p3top, line width=7.5pt] coordinates {(2,100)(2,124.4)(2,nan)(15,100)(15,102.8)(15,nan)(16,100)(16,109.6)(16,nan)(19,100)(19,113.2)(19,nan)(22,100)(22,117.1)(22,nan)(24,100)(24,101.3)(24,nan)(26,100)(26,103.2)(26,nan)(34,100)(34,102.7)(34,nan)(37,100)(37,109.6)(37,nan)(43,100)(43,109.6)(43,nan)(44,100)(44,116)(44,nan)(46,100)(46,111.6)(46,nan)(49,100)(49,102)(49,nan)(61,100)(61,105.5)(61,nan)(66,100)(66,109.6)(66,nan)(67,100)(67,117.1)(67,nan)(79,100)(79,104.9)(79,nan)(80,100)(80,115.2)(80,nan)(82,100)(82,123.5)(82,nan)(88,100)(88,109.6)(88,nan)(89,100)(89,112.4)};
\addplot[p3yel, line width=7.5pt] coordinates {(0,100)(0,115.2)(0,nan)(1,100)(1,109.6)(1,nan)(3,100)(3,119.4)(3,nan)(4,100)(4,111)(4,nan)(5,100)(5,109.6)(5,nan)(17,100)(17,109.6)(17,nan)(20,100)(20,111)(20,nan)(21,100)(21,105.5)(21,nan)(23,100)(23,114.4)(23,nan)(28,100)(28,101)(28,nan)(45,100)(45,102.2)(45,nan)(47,100)(47,110.5)(47,nan)(68,100)(68,102.5)(68,nan)(81,100)(81,110.5)(81,nan)(83,100)(83,122.1)(83,nan)(84,100)(84,110.5)(84,nan)(85,100)(85,109.6)};
% magenta fills
\addplot[fill=p3fill, draw=none] coordinates {(62.6,1.5)(62.9,7)(63.5,9.6)(65.2,9.6)(65.6,1.5)} --cycle;
\addplot[fill=p3fill, draw=none] coordinates {(68.3,1.5)(68.6,9.6)(79,9.6)(79.3,1.5)} --cycle;
% green horizontal lines
\addplot[p3green, line width=1pt] coordinates {(-0.17,100)(89.3,100)};
\addplot[p3green, line width=1pt] coordinates {(-0.17,80)(89.3,80)};
% lines
\addplot[p3purp, line width=0.6pt] coordinates {(0,100)(1,100)(2,100)(3,100)(4,100)(5,100)(6,83.2)(7,66.6)(8,48.5)(9,24.9)(10,1.2)(11,1.2)(12,1.2)(13,1.2)(14,1.2)(15,22.1)(16,61)(17,100)(18,91.6)(19,100)(20,100)(21,100)(22,100)(23,100)(24,87.4)(25,72.1)(26,73.5)(27,42.9)(28,38.8)(29,1.2)(30,1.2)(31,1.2)(32,1.2)(33,6.8)(34,30.4)(35,52.7)(36,72.1)(37,100)(38,88.8)(39,61)(40,52.7)(41,34.6)(42,1.2)(43,24.9)(44,61)(45,77.7)(46,94.4)(47,100)(48,77.7)(49,72.1)(50,44.3)(51,24.9)(52,1.2)(53,1.2)(54,1.2)(55,1.2)(56,1.2)(57,1.2)(58,1.2)(59,1.2)(60,1.2)(61,7.6)(62,1.2)(63,1.2)(64,1.2)(65,1.2)(66,2.6)(67,63.8)(68,63.8)(69,36)(70,35.4)(71,8.2)(72,19.3)(73,6.8)(74,16.5)(75,6.8)(76,17.9)(77,9.6)(78,22.1)(79,100)(80,100)(81,100)(82,100)(83,100)(84,100)(85,100)(86,90.2)(87,61)(88,81.8)(89,100)};
\addplot[p3oline, line width=1.5pt] coordinates {(-0.17,42.9)(1,44.3)(2,72.1)(3,89.3)(4,93)(5,97.1)(6,89.3)(7,79.1)(8,73.5)(9,66.6)(10,57.7)(11,51.3)(12,48.5)(13,44.9)(14,39.3)(15,49.3)(16,59.6)(17,67.9)(18,66.6)(19,76.3)(20,80.5)(21,81)(22,88.8)(23,97.1)(24,91)(25,88.2)(26,88.2)(27,83.8)(28,82.7)(29,72.1)(30,64.3)(31,58.8)(32,54.1)(33,55.4)(34,61.6)(35,62.4)(36,66.6)(37,72.7)(38,69.9)(39,62.4)(40,62.4)(41,61)(42,57.7)(43,62.4)(44,67.9)(45,70.7)(46,77.7)(47,81)(48,77.1)(49,75.4)(50,69.3)(51,65.2)(52,56.8)(53,47.1)(54,38.8)(55,34.6)(56,32.6)(57,29)(58,30.4)(59,22.1)(60,17.9)(61,17.9)(62,11)(63,5.4)(64,3.2)(65,2.6)(66,8.2)(67,13.7)(68,13.7)(69,9.6)(70,8.2)(71,4)(72,3.2)(73,2.6)(74,2.6)(75,2.6)(76,2.6)(77,2.6)(78,2.6)(79,11)(80,20.7)(81,22.6)(82,36)(83,52.7)(84,56.8)(85,59.6)(86,55.4)(87,37.4)(88,49.9)(89,63.8)};
\addplot[p3yline, line width=1.5pt] coordinates {(-0.17,42.9)(1,44.3)(2,72.1)(3,89.3)(4,93)(5,97.1)(6,88.8)(7,78.2)(8,72.7)(9,65.2)(10,56)(11,49.3)(12,46.5)(13,42.9)(14,36.5)(15,49.3)(16,58.2)(17,67.1)(18,64.3)(19,74.9)(20,81)(21,81)(22,88.2)(23,97.7)(24,90.2)(25,86)(26,84.6)(27,74.3)(28,75.4)(29,58.2)(30,44.3)(31,34.6)(32,24.3)(33,29)(34,40.2)(35,38.8)(36,45.7)(37,58.2)(38,54.1)(39,43.8)(40,37.4)(41,29)(42,9.6)(43,17.9)(44,34.6)(45,37.4)(46,52.7)(47,63.2)(48,52.7)(49,50.4)(50,44.3)(51,30.4)(52,1.2)(53,1.2)(54,1.2)(55,1.2)(56,1.2)(57,1.2)(58,1.2)(59,1.2)(60,1.2)(61,2.6)(62,1.2)(63,3.5)(64,4)(65,3.5)(66,8.2)(67,13.7)(68,13.7)(69,7.6)(70,6.8)(71,2.6)(72,2.6)(73,2.6)(74,2.6)(75,2.6)(76,2.6)(77,2.6)(78,2.6)(79,22.1)(80,54.1)(81,66.6)(82,99.9)(83,100)(84,100)(85,100)(86,94.4)(87,62.4)(88,84.6)(89,100)};
\end{axis}
%================ PANEL 4 ================
\begin{axis}[panel, at={(0pt,-565pt)}, height=112pt, ymin=-70, ymax=154]
\addplot[gridl] coordinates {(-0.17,45.1)(90.35,45.1)(90.35,nan)(-0.17,91.5)(90.35,91.5)};
\addplot[p4red, line width=7.5pt] coordinates {(0,0)(0,2)(0,nan)(2,0)(2,43)(2,nan)(3,0)(3,88.1)(3,nan)(14,0)(14,5.2)(14,nan)(15,0)(15,32.2)(15,nan)(16,0)(16,61.5)(16,nan)(22,0)(22,49.4)(22,nan)(23,0)(23,123.4)(23,nan)(24,0)(24,6.4)(24,nan)(31,0)(31,14.2)(31,nan)(33,0)(33,32.2)(33,nan)(37,0)(37,54.6)(37,nan)(41,0)(41,5.6)(41,nan)(42,0)(42,5.6)(42,nan)(43,0)(43,35.7)(43,nan)(44,0)(44,30.1)(44,nan)(46,0)(46,45.1)(46,nan)(47,0)(47,19.3)(47,nan)(55,0)(55,15.9)(55,nan)(58,0)(58,5.6)(58,nan)(61,0)(61,17.2)(61,nan)(65,0)(65,3)(65,nan)(66,0)(66,22.8)(66,nan)(67,0)(67,11.6)(67,nan)(72,0)(72,3)(72,nan)(78,0)(78,2)(78,nan)(79,0)(79,6.4)(79,nan)(80,0)(80,25.8)(80,nan)(81,0)(81,3)(81,nan)(82,0)(82,21.5)(82,nan)(83,0)(83,43)(83,nan)(88,0)(88,28)(88,nan)(89,0)(89,48.6)};
\addplot[black, line width=5.5pt] coordinates {(2,1.5)(2,41.5)(2,nan)(3,1.5)(3,86.6)(3,nan)(14,1.5)(14,3.7)(14,nan)(15,1.5)(15,30.7)(15,nan)(16,1.5)(16,60)(16,nan)(22,1.5)(22,47.9)(22,nan)(23,1.5)(23,121.9)(23,nan)(24,1.5)(24,4.9)(24,nan)(31,1.5)(31,12.7)(31,nan)(33,1.5)(33,30.7)(33,nan)(37,1.5)(37,53.1)(37,nan)(41,1.5)(41,4.1)(41,nan)(42,1.5)(42,4.1)(42,nan)(43,1.5)(43,34.2)(43,nan)(44,1.5)(44,28.6)(44,nan)(46,1.5)(46,43.6)(46,nan)(47,1.5)(47,17.8)(47,nan)(55,1.5)(55,14.4)(55,nan)(58,1.5)(58,4.1)(58,nan)(61,1.5)(61,15.7)(61,nan)(66,1.5)(66,21.3)(66,nan)(67,1.5)(67,10.1)(67,nan)(79,1.5)(79,4.9)(79,nan)(80,1.5)(80,24.3)(80,nan)(82,1.5)(82,20)(82,nan)(83,1.5)(83,41.5)(83,nan)(88,1.5)(88,26.5)(88,nan)(89,1.5)(89,47.1)};
\addplot[p4yel, line width=7.5pt] coordinates {(2,0)(2,6.4)(2,nan)(3,0)(3,53.7)(3,nan)(5,0)(5,55)(5,nan)(6,0)(6,55)(6,nan)(15,0)(15,15.9)(15,nan)(16,0)(16,38.7)(16,nan)(17,0)(17,43)(17,nan)(19,0)(19,38.7)(19,nan)(20,0)(20,34.4)(20,nan)(21,0)(21,32.2)(21,nan)(22,0)(22,37.4)(22,nan)(23,0)(23,41.7)(23,nan)(26,0)(26,47.3)(26,nan)(28,0)(28,38.7)(28,nan)(33,0)(33,14.2)(33,nan)(34,0)(34,46)(34,nan)(36,0)(36,5.6)(36,nan)(37,0)(37,12.9)(37,nan)(43,0)(43,7.3)(43,nan)(44,0)(44,21.5)(44,nan)(46,0)(46,19.3)(46,nan)(47,0)(47,11.6)(47,nan)(80,0)(80,4.3)(80,nan)(82,0)(82,6.4)(82,nan)(83,0)(83,21.5)(83,nan)(88,0)(88,9.9)(88,nan)(89,0)(89,23.6)};
\addplot[p4green, line width=7.5pt] coordinates {(1,0)(1,-8.6)(1,nan)(11,0)(11,-8.6)(11,nan)(12,0)(12,-1.3)(12,nan)(13,0)(13,-15.9)(13,nan)(30,0)(30,-70)(30,nan)(32,0)(32,-9.9)(32,nan)(38,0)(38,-27.9)(38,nan)(39,0)(39,-41.7)(39,nan)(40,0)(40,-15)(40,nan)(45,0)(45,-4.3)(45,nan)(48,0)(48,-21.5)(48,nan)(49,0)(49,-21.5)(49,nan)(50,0)(50,-9.9)(50,nan)(51,0)(51,-11.6)(51,nan)(52,0)(52,-36.5)(52,nan)(53,0)(53,-47.3)(53,nan)(54,0)(54,-6.4)(54,nan)(56,0)(56,-11.6)(56,nan)(57,0)(57,-9.9)(57,nan)(59,0)(59,-9.9)(59,nan)(60,0)(60,-1.3)(60,nan)(62,0)(62,-24.5)(62,nan)(63,0)(63,-44.3)(63,nan)(64,0)(64,-10.7)(64,nan)(68,0)(68,-8.6)(68,nan)(69,0)(69,-22.8)(69,nan)(70,0)(70,-8.6)(70,nan)(71,0)(71,-20.2)(71,nan)(73,0)(73,-11.6)(73,nan)(74,0)(74,-18.5)(74,nan)(75,0)(75,-15)(75,nan)(76,0)(76,-11.6)(76,nan)(77,0)(77,-11.6)(77,nan)(87,0)(87,-70)};
\addplot[p4purp, line width=7.5pt] coordinates {(4,0)(4,-8.6)(4,nan)(7,0)(7,-32.2)(7,nan)(8,0)(8,-7.3)(8,nan)(9,0)(9,-25.8)(9,nan)(10,0)(10,-8.6)(10,nan)(18,0)(18,-44.3)(18,nan)(25,0)(25,-15.9)(25,nan)(27,0)(27,-35.7)(27,nan)(29,0)(29,-48.6)(29,nan)(35,0)(35,-19.3)(35,nan)(84,0)(84,-8.6)(84,nan)(85,0)(85,-3)(85,nan)(86,0)(86,-11.6)};
\end{axis}
%================ separators ================
\draw[sepred, line width=1pt] (0,1) -- (2073,1);
\draw[sepred, line width=1pt] (0,683) -- (2073,683);
\draw[sepred, line width=1pt] (0,905) -- (2073,905);
\draw[sepred, line width=1pt] (0,1130) -- (2073,1130);
%================ headers ================
\tikzset{h/.style={anchor=west, inner sep=0pt, font=\hdr}}
\node[h, text=ttxt] at (0,18) {常山北明(日线,前复权)};
\fill[gray!75] (193,17) circle (8); \draw[black, line width=1pt] (189,15) -- (193,19) -- (197,15);
\node[h, text=ttxt] at (209,18) {测试主图(6)};
\node[h, text=ttxt] at (312,18) {MA1: 9.35};
\node[h, text=yellow] at (400,18) {MA2: 9.56};
\node[h, text=green] at (486,18) {: 7.33};
\node[h, text=magenta] at (542,18) {: 6.50};
\node[h, text=yellow] at (592,18) {D4: 9.33};
\node[h, text=red] at (666,18) {XLJ龙骨线: 10.61};
%
\fill[gray!75] (7,695) circle (8); \draw[black, line width=1pt] (3,693) -- (7,697) -- (11,693);
\node[h, text=ttxt] at (19,696) {幅图测试2};
\node[h, text=red] at (110,696) {CCI进: 0.00};
\node[h, text=green] at (212,696) {注意底部: 0.00};
\node[h, text=red] at (337,696) {坚决持股: 0.00};
\node[h, text=yellow] at (461,696) {谨慎观望: 0.00};
\node[h, text=cyan!85!black] at (586,696) {果断持币: 0.00};
\node[h, text=ttxt] at (710,696) {趋势转强: 0.00};
\node[h, text=ttxt] at (834,696) {关注度: 0.00};
%
\fill[gray!75] (7,917) circle (8); \draw[black, line width=1pt] (3,915) -- (7,919) -- (11,915);
\node[h, text=ttxt] at (19,918) {幅图测试3};
\node[h, text={rgb,255:red,255;green,192;blue,64}] at (111,918) {价量: 64.61};
\node[h, text={rgb,255:red,48;green,208;blue,224}] at (210,918) {主线: 100.00};
\node[h, text={rgb,255:red,240;green,192;blue,96}] at (320,918) {快线: 100.00};
\node[h, text={rgb,255:red,208;green,64;blue,208}] at (428,918) {散兵坑: 33.41};
\node[h, text={rgb,255:red,32;green,224;blue,32}] at (542,918) {: 100.00};
\node[h, text={rgb,255:red,96;green,192;blue,32}] at (616,918) {: 80.00};
\node[h, text={rgb,255:red,240;green,160;blue,48}] at (681,918) {: 64.61};
\node[h, text={rgb,255:red,176;green,224;blue,64}] at (748,918) {: 100.00};
\node[h, text={rgb,255:red,176;green,112;blue,224}] at (818,918) {: 100.00};
%
\fill[gray!75] (7,1143) circle (8); \draw[black, line width=1pt] (3,1141) -- (7,1145) -- (11,1141);
\node[h, text=ttxt] at (20,1144) {幅图测试};
\node[h, text=red] at (99,1144) {吸进量: 108500.88};
\node[h, text=green!75!black] at (259,1144) {吐出量: 0.00};
\node[h, text=yellow] at (366,1144) {买进强烈: 5195.16};
\node[h, text={rgb,255:red,144;green,48;blue,224}] at (521,1144) {减筹打压: 0.00};
% right labels
\node[anchor=west, inner sep=0, font=\lbl, text={rgb,255:red,32;green,168;blue,184}] at (2046,136) {龙骨};
\node[anchor=west, inner sep=0, font=\lbl, text=magenta] at (2043,308) {反转};
\node[anchor=west, inner sep=0, font=\lbl, text=red!85!black] at (2046,578) {432};
% watermark
\node[anchor=east, inner sep=1pt, font=\lbl, text=white, fill=black!80!white] at (2068,1338) {云析赢指标公式网};
\end{tikzpicture}
\end{document}
